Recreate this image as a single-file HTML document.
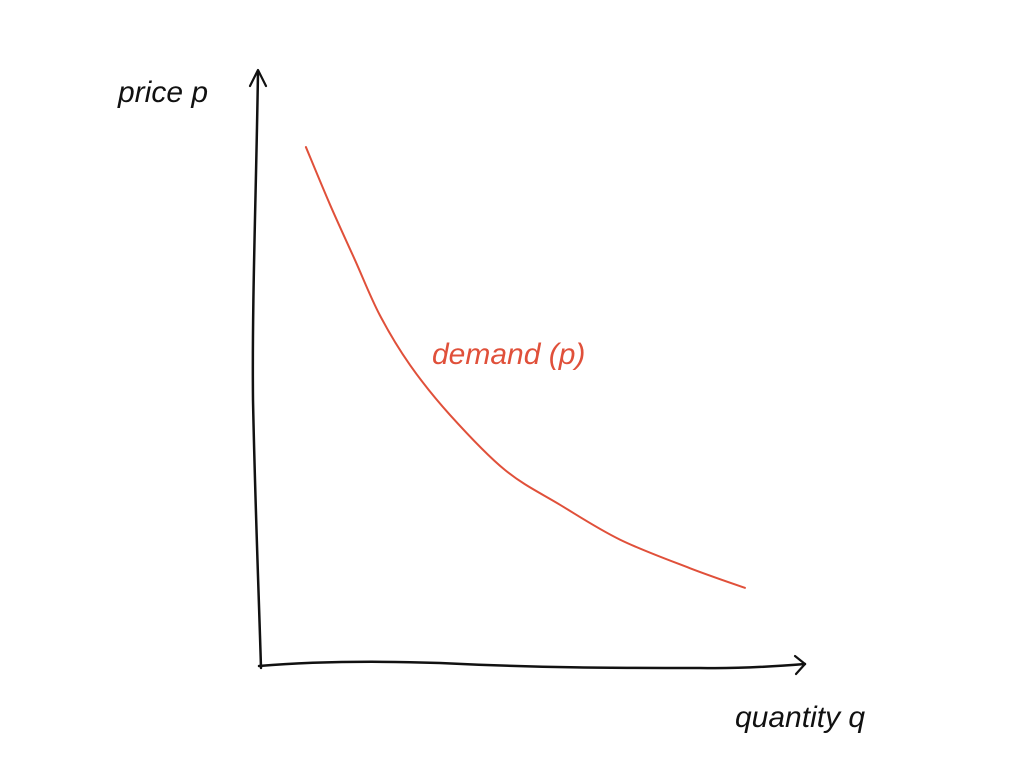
<!DOCTYPE html>
<html>
<head>
<meta charset="utf-8">
<style>
  html, body { margin: 0; padding: 0; background: #ffffff; }
  svg { display: block; }
  .hand { font-family: "Liberation Sans", sans-serif; font-style: italic; }
</style>
</head>
<body>
<svg id="chart" width="1024" height="768" viewBox="0 0 1024 768" xmlns="http://www.w3.org/2000/svg">
  <rect width="1024" height="768" fill="#ffffff"/>
  <path d="M258 72 C256 200 252 300 253 400 C255 500 259 600 261 668" stroke="#111" stroke-width="2.5" fill="none" stroke-linecap="round"/>
  <path d="M250 86 L258 70 L266 86" stroke="#111" stroke-width="2.2" fill="none" stroke-linecap="round" stroke-linejoin="round"/>
  <path d="M259 666 C320 661 380 661 440 663 C540 668 620 668 700 668 C740 669 780 666 805 664" stroke="#111" stroke-width="2.5" fill="none" stroke-linecap="round"/>
  <path d="M795 656 L805 664 L796 674" stroke="#111" stroke-width="2.2" fill="none" stroke-linecap="round" stroke-linejoin="round"/>
  <text class="hand" x="118" y="102" font-size="30" fill="#111">price p</text>
  <text class="hand" x="735" y="727" font-size="30" fill="#111">quantity q</text>
  <text class="hand" x="432" y="364" font-size="30" fill="#e0503a">demand (p)</text>
  <g id="series"></g>
</svg>
<script>
const quantities = [0.85, 1.3, 1.76, 2.22, 2.78, 3.52, 4.54, 5.56, 6.67, 7.96, 8.98];
const prices = [8.93, 7.93, 6.98, 6.03, 5.17, 4.31, 3.36, 2.76, 2.16, 1.67, 1.33];

function xScale(q) { return 260 + q * 54; }
function yScale(p) { return 665 - p * 58; }

const pts = quantities.map((q, i) => [xScale(q), yScale(prices[i])]);
let d = 'M' + pts[0][0] + ' ' + pts[0][1];
for (let i = 0; i < pts.length - 1; i++) {
  const p0 = pts[i - 1] || pts[i], p1 = pts[i], p2 = pts[i + 1], p3 = pts[i + 2] || p2;
  const c1x = p1[0] + (p2[0] - p0[0]) / 6, c1y = p1[1] + (p2[1] - p0[1]) / 6;
  const c2x = p2[0] - (p3[0] - p1[0]) / 6, c2y = p2[1] - (p3[1] - p1[1]) / 6;
  d += ' C' + c1x + ' ' + c1y + ' ' + c2x + ' ' + c2y + ' ' + p2[0] + ' ' + p2[1];
}
const path = document.createElementNS('http://www.w3.org/2000/svg', 'path');
path.setAttribute('d', d);
path.setAttribute('stroke', '#e0503a');
path.setAttribute('stroke-width', '2');
path.setAttribute('fill', 'none');
path.setAttribute('stroke-linecap', 'round');


document.getElementById('series').appendChild(path);
</script>
</body>
</html>
